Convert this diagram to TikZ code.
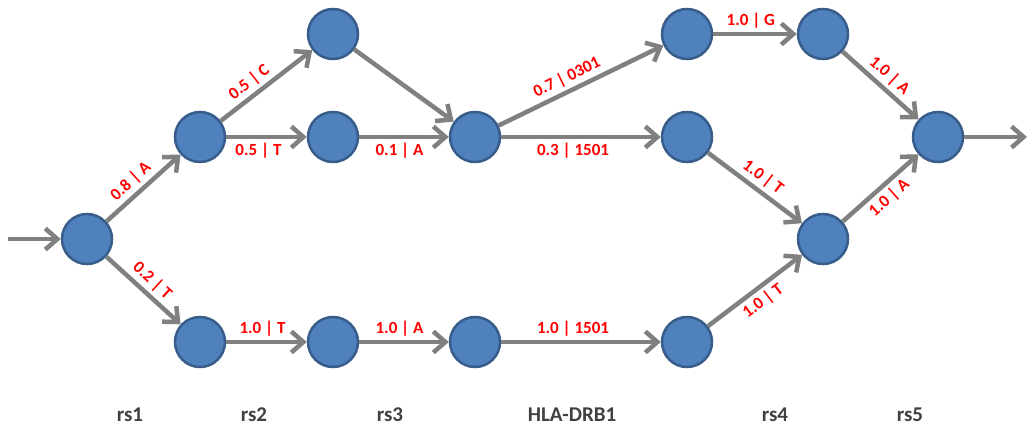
\documentclass[tikz,border=0pt]{standalone}
\usepackage{fontspec}
\setmainfont{Carlito}
\usetikzlibrary{arrows.meta}
\definecolor{nodefill}{RGB}{79,129,189}
\definecolor{nodeline}{RGB}{56,93,138}
\definecolor{edgegray}{RGB}{128,128,128}
\definecolor{lblred}{RGB}{255,0,0}
\definecolor{coltext}{RGB}{64,64,64}
\tikzset{
  st/.style={circle, minimum size=50pt, inner sep=0pt, fill=nodefill, draw=nodeline, line width=2.5pt},
  ed/.style={draw=edgegray, line width=4.5pt, -{Straight Barb[length=12pt,width=21pt]}},
  el/.style={font=\fontsize{17}{18}\selectfont\bfseries, text=lblred, inner sep=3.5pt},
  col/.style={font=\fontsize{21}{22}\selectfont\bfseries, text=coltext}
}
\begin{document}
\begin{tikzpicture}[x=1pt,y=-1pt]
\useasboundingbox (0,0) rectangle (1031,428);
\node[st] (n1) at (87,239) {};
\node[st] (n2) at (200,137) {};
\node[st] (n3) at (333,34) {};
\node[st] (n4) at (333,137) {};
\node[st] (n5) at (475,137) {};
\node[st] (n6) at (687,34) {};
\node[st] (n7) at (823,34) {};
\node[st] (n8) at (687,137) {};
\node[st] (n9) at (938,137) {};
\node[st] (n10) at (823,239) {};
\node[st] (n11) at (200,342) {};
\node[st] (n12) at (333,342) {};
\node[st] (n13) at (475,342) {};
\node[st] (n14) at (687,342) {};
\coordinate (in) at (8,239);
\coordinate (out) at (1027,137);

\draw[ed] (in) -- (n1);
\draw[ed] (n9) -- (out);
\draw[ed] (n1) -- node[el, sloped, above, pos=0.45] {0.8 | A} (n2);
\draw[ed] (n1) -- node[el, sloped, above, pos=0.5] {0.2 | T} (n11);
\draw[ed] (n2) -- node[el, sloped, above, pos=0.4] {0.5 | C} (n3);
\draw[ed] (n2) -- node[el, below, pos=0.4] {0.5 | T} (n4);
\draw[ed] (n3) -- (n5);
\draw[ed] (n4) -- node[el, below, pos=0.45] {0.1 | A} (n5);
\draw[ed] (n5) -- node[el, sloped, above, pos=0.45] {0.7 | 0301} (n6);
\draw[ed] (n5) -- node[el, below, pos=0.45] {0.3 | 1501} (n8);
\draw[ed] (n6) -- node[el, above, pos=0.45] {1.0 | G} (n7);
\draw[ed] (n7) -- node[el, sloped, above, pos=0.5] {1.0 | A} (n9);
\draw[ed] (n8) -- node[el, sloped, above, pos=0.5] {1.0 | T} (n10);
\draw[ed] (n10) -- node[el, sloped, below, pos=0.5] {1.0 | A} (n9);
\draw[ed] (n14) -- node[el, sloped, below, pos=0.5] {1.0 | T} (n10);
\draw[ed] (n11) -- node[el, above, pos=0.45] {1.0 | T} (n12);
\draw[ed] (n12) -- node[el, above, pos=0.45] {1.0 | A} (n13);
\draw[ed] (n13) -- node[el, above, pos=0.45] {1.0 | 1501} (n14);

\node[col] (c1) at (130,415) {rs1};
\node[col] (c2) at (254,415) {rs2};
\node[col] (c3) at (390,415) {rs3};
\node[col] (c4) at (572,415) {HLA-DRB1};
\node[col] (c5) at (775,415) {rs4};
\node[col] (c6) at (910,415) {rs5};
\end{tikzpicture}
\end{document}
